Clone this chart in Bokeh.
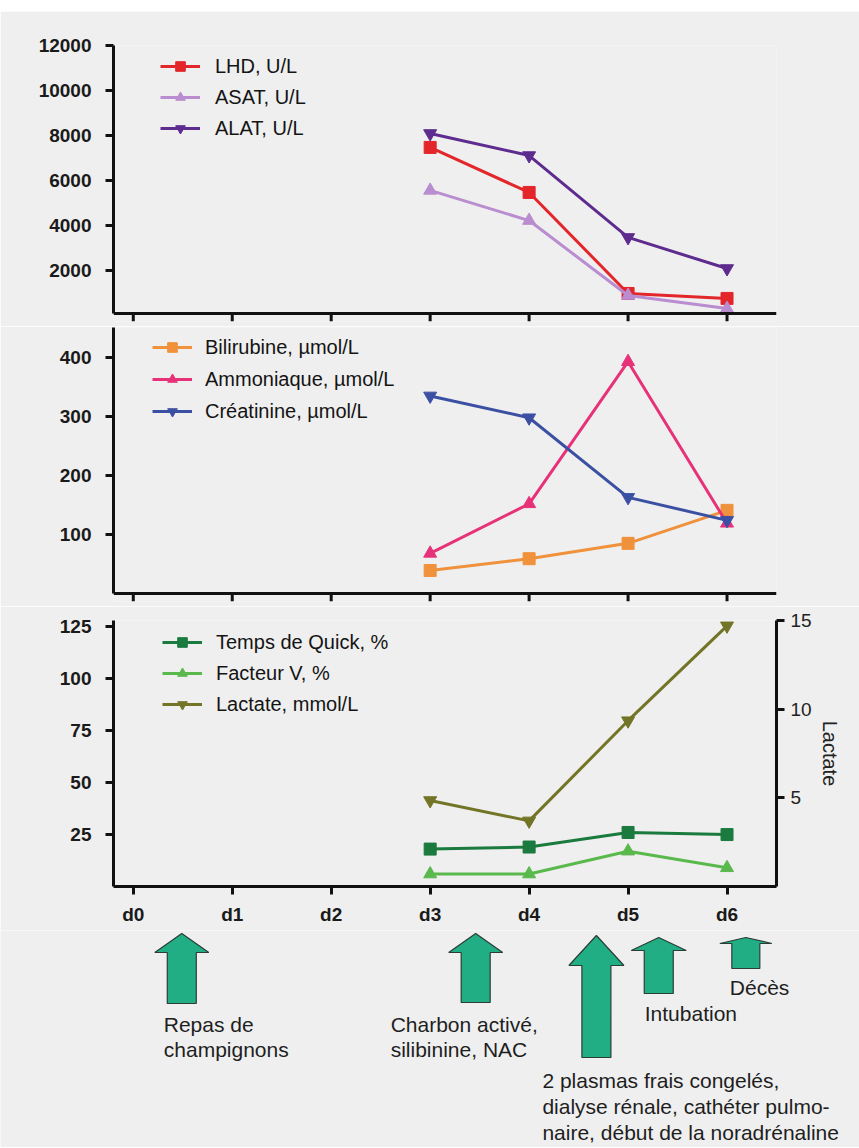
from bokeh.plotting import figure
from bokeh.models import Range1d, LinearAxis, FixedTicker, Legend, LegendItem, Spacer, Span, Label
from bokeh.layouts import column
from bokeh.embed import file_html
from bokeh.resources import INLINE

# ---------------- data ----------------
day_ticks = [0, 1, 2, 3, 4, 5, 6]
day_labels = ["d0", "d1", "d2", "d3", "d4", "d5", "d6"]
days = [3, 4, 5, 6]

lhd = [7470, 5470, 980, 760]
asat = [5560, 4220, 890, 310]
alat = [8090, 7110, 3470, 2090]

bilirubine = [39, 59, 85, 141]
ammoniaque = [68, 152, 393, 119]
creatinine = [335, 298, 163, 124]

quick = [18, 19, 26, 25]
facteur_v = [6, 6, 17, 9]
lactate = [4.85, 3.7, 9.35, 14.7]

ticks_1 = [2000, 4000, 6000, 8000, 10000, 12000]
ticks_2 = [100, 200, 300, 400]
ticks_3 = [25, 50, 75, 100, 125]
ticks_lac = [5, 10, 15]

event_days = [0.49, 3.46, 4.68, 5.31, 6.19]
event_labels = [
    ["Repas de", "champignons"],
    ["Charbon activé,", "silibinine, NAC"],
    ["2 plasmas frais congelés,", "dialyse rénale, cathéter pulmo-",
     "naire, début de la noradrénaline"],
    ["Intubation"],
    ["Décès"],
]

# ---------------- style / layout ----------------
BG = "#efefef"
W = 859
FL, FR = 113, 776          # frame left/right (page px)
X0, X1 = -0.2, 6.5
PPD = (FR - FL) / (X1 - X0)
FONT = "Liberation Sans"
AX = "#111111"

# arrow geometry (page px): top, head base, bottom, head half width, shaft half width
arrow_geom = [
    (933, 952, 1003, 27, 14.5),
    (933, 952, 1002, 27, 14.5),
    (935, 965, 1057, 27.5, 14.5),
    (937, 950, 993, 27.5, 14.5),
    (937, 943, 968, 26, 14),
]
# text: x offset from arrow centre (px), first line position (page px), line step
text_geom = [(-18, 1024, 25), (-85, 1024, 25), (-54, 1080, 26), (-14, 1013, 25), (-16, 987, 25)]


def base_fig(height, top, bottom, yr):
    p = figure(width=W, height=height, x_range=Range1d(X0, X1), y_range=yr,
               output_backend="svg", toolbar_location=None, title=None,
               min_border_left=FL, min_border_right=W - FR,
               min_border_top=top, min_border_bottom=bottom)
    p.background_fill_color = BG
    p.border_fill_color = BG
    p.outline_line_color = None
    p.xgrid.visible = False
    p.ygrid.visible = False
    for ax in p.axis:
        ax.axis_line_width = 3
        ax.axis_line_color = AX
        ax.major_tick_line_width = 3
        ax.major_tick_line_color = AX
        ax.major_tick_out = 8
        ax.major_tick_in = 0
        ax.minor_tick_line_color = None
        ax.major_label_text_font = FONT
        ax.major_label_text_font_size = "19px"
        ax.major_label_text_font_style = "bold"
        ax.major_label_text_color = "#1a1a1a"
    p.xaxis.ticker = FixedTicker(ticks=day_ticks)
    p.xaxis.major_label_overrides = {t: l for t, l in zip(day_ticks, day_labels)}
    p.yaxis.major_label_standoff = 14
    return p


def plain_xaxis(p, y_axis, y_bottom):
    """x axis without labels: line + downward ticks at the day ticks."""
    p.xaxis.visible = False
    p.add_layout(Span(location=y_axis, dimension="width", line_color=AX, line_width=3))
    p.segment(x0=day_ticks, y0=[y_axis] * len(day_ticks), x1=day_ticks,
              y1=[y_bottom] * len(day_ticks), line_color=AX, line_width=3)


def add_legend(p, items, frame_top, frame_h, row0, glyph_left, standoff, spacing):
    row_h = 24
    n = len(items)
    lh = n * row_h + (n - 1) * spacing
    vy = frame_h - lh - (row0 - frame_top - row_h / 2)
    leg = Legend(items=items, location=(glyph_left - FL, vy), padding=0, margin=0,
                 spacing=spacing, glyph_width=40, glyph_height=row_h, label_height=row_h,
                 label_standoff=standoff, border_line_color=None, background_fill_alpha=0,
                 label_text_font=FONT, label_text_font_size="20px",
                 label_text_color="#141414")
    p.add_layout(leg)


def series(p, y, color, marker, size=13, y_range_name="default"):
    r1 = p.line(days, y, line_color=color, line_width=3, y_range_name=y_range_name)
    r2 = p.scatter(days, y, marker=marker, size=size, fill_color=color, line_color=color,
                   y_range_name=y_range_name)
    return [r1, r2]


# ---------------- panel 1 ----------------
# frame 45..321 px, x axis line at 313 px (value 90)
p1 = base_fig(315, 34, 5, Range1d(-265.5, 12000))
p1.yaxis.ticker = FixedTicker(ticks=ticks_1)
p1.yaxis.bounds = (90, 12000)
plain_xaxis(p1, 90, -265.5)
r_lhd = series(p1, lhd, "#e3262a", "square", 12)
r_asat = series(p1, asat, "#b98dcf", "triangle")
r_alat = series(p1, alat, "#5e2b8f", "inverted_triangle")
add_legend(p1, [LegendItem(label="LHD, U/L", renderers=r_lhd),
                LegendItem(label="ASAT, U/L", renderers=r_asat),
                LegendItem(label="ALAT, U/L", renderers=r_alat)],
           45, 276, 66, 160, 15, 7)

# ---------------- panel 2 ----------------
# frame 327..601 px, x axis line at 593 px (value 0)
p2 = base_fig(280, 1, 5, Range1d(-13.6, 451))
p2.yaxis.ticker = FixedTicker(ticks=ticks_2)
p2.yaxis.bounds = (0, 451)
plain_xaxis(p2, 0, -13.6)
r_bil = series(p2, bilirubine, "#f0913c", "square", 12)
r_amm = series(p2, ammoniaque, "#e7327a", "triangle")
r_cre = series(p2, creatinine, "#3c50a3", "inverted_triangle")
add_legend(p2, [LegendItem(label="Bilirubine, µmol/L", renderers=r_bil),
                LegendItem(label="Ammoniaque, µmol/L", renderers=r_amm),
                LegendItem(label="Créatinine, µmol/L", renderers=r_cre)],
           327, 274, 347, 152, 13, 8)

# ---------------- panel 3 ----------------
p3 = base_fig(324, 14, 44, Range1d(0, 128))
p3.extra_y_ranges = {"lac": Range1d(0, 15)}
p3.yaxis.ticker = FixedTicker(ticks=ticks_3)
p3.xaxis.major_label_standoff = 9
lac_axis = LinearAxis(y_range_name="lac", ticker=FixedTicker(ticks=ticks_lac),
                      axis_label="Lactate", axis_line_width=3, axis_line_color=AX,
                      major_tick_line_width=3, major_tick_line_color=AX,
                      major_tick_out=8, major_tick_in=0, minor_tick_line_color=None,
                      major_label_text_font=FONT, major_label_text_font_size="19px",
                      major_label_text_color="#222222", major_label_standoff=6,
                      axis_label_text_font=FONT, axis_label_text_font_size="20px",
                      axis_label_text_font_style="normal", axis_label_text_color="#222222",
                      axis_label_standoff=4)
p3.add_layout(lac_axis, "right")
r_q = series(p3, quick, "#1b7a3e", "square", 12)
r_v = series(p3, facteur_v, "#5ab94d", "triangle")
r_l = series(p3, lactate, "#737526", "inverted_triangle", y_range_name="lac")
add_legend(p3, [LegendItem(label="Temps de Quick, %", renderers=r_q),
                LegendItem(label="Facteur V, %", renderers=r_v),
                LegendItem(label="Lactate, mmol/L", renderers=r_l)],
           620, 266, 642, 162, 14, 7)

# ---------------- annotation panel (separate root, full-width frame) ----------------
H4 = 217
TOP4 = 930
x4s = X0 - FL / PPD
x4e = X1 + (W - FR) / PPD
p4 = figure(width=W, height=H4, x_range=Range1d(x4s, x4e), y_range=Range1d(TOP4 + H4, TOP4),
            output_backend="svg", toolbar_location=None, title=None,
            x_axis_location=None, y_axis_location=None,
            min_border_left=0, min_border_right=0, min_border_top=0, min_border_bottom=0)
p4.background_fill_color = BG
p4.border_fill_color = BG
p4.outline_line_color = None
p4.xgrid.visible = False
p4.ygrid.visible = False

xs, ys = [], []
for d, (top, hb, bot, hh, sh) in zip(event_days, arrow_geom):
    a, b = hh / PPD, sh / PPD
    xs.append([d, d + a, d + b, d + b, d - b, d - b, d - a])
    ys.append([top, hb, hb, bot, bot, hb, hb])
p4.patches(xs, ys, fill_color="#22ae84", line_color="#2b3d35", line_width=1.2)

for d, lines, (dx, y0, step) in zip(event_days, event_labels, text_geom):
    for i, line in enumerate(lines):
        p4.add_layout(Label(x=d, y=y0 + i * step, x_offset=dx, text=line,
                            text_font=FONT, text_font_size="21px", text_color="#1e1e1e",
                            text_baseline="alphabetic", text_align="left"))

charts = column(Spacer(width=W, height=11), p1, p2, p3, spacing=0)
open("out.html", "w").write(file_html([charts, p4], INLINE))
